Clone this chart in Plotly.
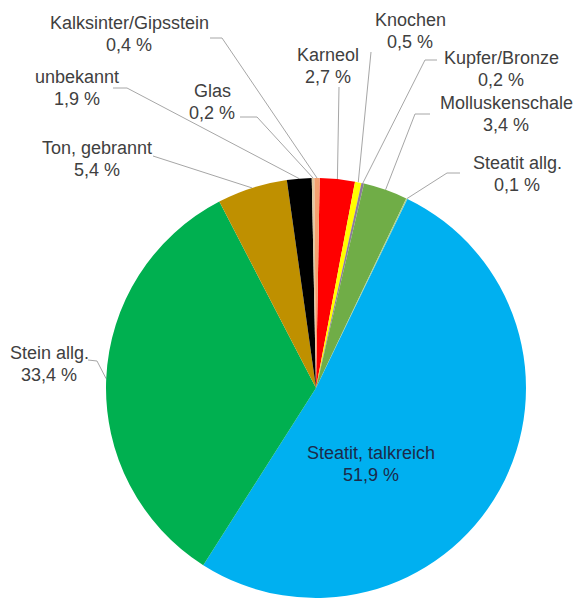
import math
import plotly.graph_objects as go

# ---- data ----
categories = ["Karneol", "Knochen", "Kupfer/Bronze", "Molluskenschale", "Steatit allg.",
              "Steatit, talkreich", "Stein allg.", "Ton, gebrannt", "unbekannt", "Glas",
              "Kalksinter/Gipsstein"]
values = [2.7, 0.5, 0.2, 3.4, 0.1, 51.9, 33.4, 5.4, 1.9, 0.2, 0.4]
value_labels = ["2,7 %", "0,5 %", "0,2 %", "3,4 %", "0,1 %", "51,9 %", "33,4 %",
                "5,4 %", "1,9 %", "0,2 %", "0,4 %"]

# ---- styles / layout ----
colors = ["#ff0000", "#ffff00", "#8c7b9c", "#70ad47", "#a9d18e", "#00b0f0",
          "#00b050", "#bf9000", "#000000", "#e0c8a0", "#f4a070"]
W, H = 577, 599
CX, CY, R = 316, 388, 210
ROT = 1.0
LINE_GAP = 22
# label centres (px) and leader start / elbow points (px)
label_pos = [(328, 66), (410, 31), (501, 69), (506, 114), (517, 174), (371, 464),
             (49, 364), (97, 159), (77, 88), (212, 102), (129, 34)]
leader_pts = [[(339, 87)], [(371, 52)], [(437, 60), (425, 60)], [(430, 114), (415, 114)],
              [(460, 173), (447, 173)], None, [(88, 360), (97, 361)], [(153, 156)],
              [(113, 88), (127, 88)], [(240, 117), (257, 117)], [(210, 38), (222, 38)]]

total = sum(values)
fig = go.Figure()
fig.add_trace(go.Pie(
    labels=categories, values=values, sort=False, direction="clockwise", rotation=ROT,
    marker=dict(colors=colors, line=dict(width=0)), textinfo="none", hoverinfo="label+percent",
    domain=dict(x=[(CX - R) / W, (CX + R) / W], y=[1 - (CY + R) / H, 1 - (CY - R) / H]),
    showlegend=False,
))

# leader lines: from label to slice mid-angle on the pie edge
lx, ly = [], []
cum = 0.0
for v, pts in zip(values, leader_pts):
    mid = cum + v / 2
    cum += v
    if pts is None:
        continue
    ang = math.radians(ROT + 360 * mid / total)
    ex, ey = CX + R * math.sin(ang), CY - R * math.cos(ang)
    for (px, py) in pts:
        lx.append(px); ly.append(py)
    lx.append(ex); ly.append(ey)
    lx.append(None); ly.append(None)

fig.add_trace(go.Scatter(x=lx, y=ly, mode="lines", line=dict(color="#a6a6a6", width=1),
                         hoverinfo="skip", showlegend=False))

for cat, lab, (px, py) in zip(categories, value_labels, label_pos):
    inside = cat == "Steatit, talkreich"
    fnt = dict(family="Liberation Sans, Arial, sans-serif", size=18,
               color="#1c2a4a" if inside else "#404040")
    fig.add_annotation(x=px, y=py - LINE_GAP / 2, xref="x", yref="y", text=cat,
                       showarrow=False, font=fnt)
    fig.add_annotation(x=px, y=py + LINE_GAP / 2, xref="x", yref="y", text=lab,
                       showarrow=False, font=fnt)

fig.update_layout(
    width=W, height=H, margin=dict(l=0, r=0, t=0, b=0),
    paper_bgcolor="white", plot_bgcolor="rgba(0,0,0,0)",
    xaxis=dict(range=[0, W], visible=False, fixedrange=True),
    yaxis=dict(range=[H, 0], visible=False, fixedrange=True),
)
fig.write_html("out.html", config={"displayModeBar": False},
               post_script="document.body.style.margin='0';")
